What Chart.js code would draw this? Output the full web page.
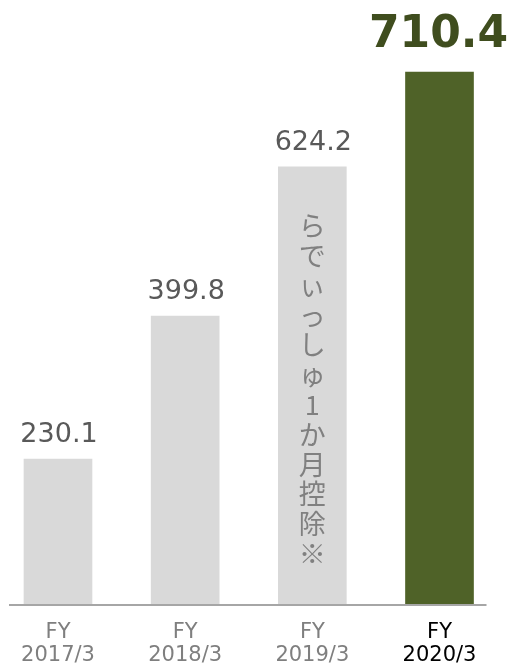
<!DOCTYPE html>
<html>
<head>
<meta charset="utf-8">
<script src="https://cdn.jsdelivr.net/npm/chart.js@4"></script>
<style>
  html, body { margin: 0; padding: 0; background: #fff; }
  #wrap { width: 514px; height: 665px; }
</style>
</head>
<body>
<div id="wrap"><canvas id="salesChart"></canvas></div>
<script>
const years = [["FY", "2017/3"], ["FY", "2018/3"], ["FY", "2019/3"], ["FY", "2020/3"]];
const printedValues = ["230.1", "399.8", "624.2", "710.4"];
// bar lengths as drawn in the source (the source is not drawn to scale)
const barLengths = [194.5, 385.0, 583.9, 710.4];
const noteText = "らでぃっしゅ1か月控除※";

const barColors = ["#d9d9d9", "#d9d9d9", "#d9d9d9", "#4f6228"];
const tickColors = ["#7f7f7f", "#7f7f7f", "#7f7f7f", "#000000"];

const ctx = document.getElementById("salesChart");

// value labels, baseline, and the vertical note inside the 3rd bar
const extrasPlugin = {
  id: "extras",
  afterDatasetsDraw(chart) {
    const c = chart.ctx;
    const area = chart.chartArea;
    const bars = chart.getDatasetMeta(0).data;

    // baseline
    c.save();
    c.strokeStyle = "#a6a6a6";
    c.lineWidth = 2;
    c.beginPath();
    c.moveTo(area.left - 49, area.bottom);
    c.lineTo(area.right + 47, area.bottom);
    c.stroke();

    // numbers above bars
    c.textAlign = "center";
    c.textBaseline = "alphabetic";
    bars.forEach((bar, i) => {
      if (i == bars.length - 1) {
        c.font = "bold 44px 'DejaVu Sans'";
        c.fillStyle = "#3f4d1e";
        c.fillText(printedValues[i], bar.x - 1, bar.y - 25);
      } else {
        c.font = "27px 'DejaVu Sans'";
        c.fillStyle = "#595959";
        c.fillText(printedValues[i], bar.x + 1, bar.y - 17);
      }
    });

    // vertical note
    const b = bars[2];
    c.font = "27px 'Noto Sans CJK JP'";
    c.fillStyle = "#808080";
    c.textBaseline = "middle";
    const chars = Array.from(noteText);
    let y = b.y + 59;
    for (let ch of chars) {
      c.fillText(ch, b.x, y);
      y += 29.8;
    }
    c.restore();
  },
};

new Chart(ctx, {
  type: "bar",
  data: {
    labels: years,
    datasets: [
      {
        label: "売上",
        data: barLengths,
        backgroundColor: barColors,
        barThickness: 68,
        borderWidth: 0,
        clip: false,
      },
    ],
  },
  options: {
    responsive: true,
    maintainAspectRatio: false,
    animation: false,
    layout: {
      padding: { left: 58, right: 74.5, top: 72, bottom: 0 },
    },
    plugins: {
      legend: { display: false },
      tooltip: { enabled: false },
    },
    scales: {
      x: {
        offset: false,
        grid: { display: false, drawTicks: false },
        border: { display: false },
        ticks: {
          padding: 16,
          maxRotation: 0,
          autoSkip: false,
          font: { family: "'DejaVu Sans'", size: 21, lineHeight: 1.1 },
          color: (c) => tickColors[c.index],
        },
        afterFit: (scale) => {
          scale.height = 60;
        },
      },
      y: {
        display: false,
        min: 0,
        max: Math.max(...barLengths),
      },
    },
  },
  plugins: [extrasPlugin],
});
</script>
</body>
</html>
